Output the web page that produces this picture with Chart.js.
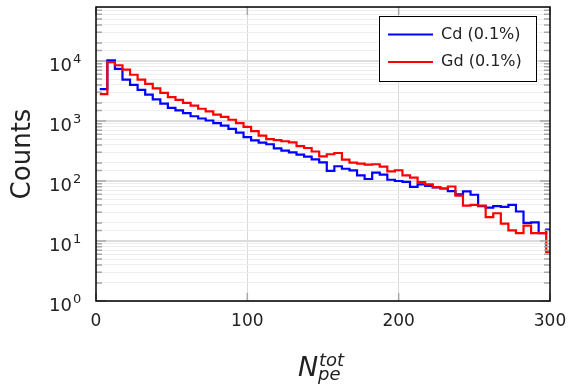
<!DOCTYPE html>
<html>
<head>
<meta charset="utf-8">
<script src="https://cdn.jsdelivr.net/npm/chart.js@4.4.1/dist/chart.umd.min.js"></script>
<style>
html, body { margin: 0; padding: 0; background: #fff; }
#wrap { width: 569px; height: 386px; }
</style>
</head>
<body>
<div id="wrap"><canvas id="c" width="569" height="386"></canvas></div>
<script>
// bin centres of the histogram (bins are 5 wide)
var binCenters = [5, 10, 15, 20, 25, 30, 35, 40, 45, 50,
	55, 60, 65, 70, 75, 80, 85, 90, 95, 100,
	105, 110, 115, 120, 125, 130, 135, 140, 145, 150,
	155, 160, 165, 170, 175, 180, 185, 190, 195, 200,
	205, 210, 215, 220, 225, 230, 235, 240, 245, 250,
	255, 260, 265, 270, 275, 280, 285, 290, 295, 300];
var binWidth = 5;

var cdCounts = [3400, 10300, 7400, 4900, 4000, 3300, 2750, 2300, 1950, 1650,
	1500, 1350, 1200, 1100, 1020, 920, 840, 740, 640, 540,
	475, 435, 410, 350, 320, 300, 275, 255, 230, 205,
	147, 176, 160, 150, 124, 108, 138, 128, 105, 100,
	97, 80, 88, 83, 78, 75, 68, 60, 67, 59,
	38, 36, 38, 37, 40, 31, 20, 20.5, 13.5, 15.5];

var gdCounts = [2800, 9600, 8500, 7200, 5900, 4900, 4150, 3500, 2950, 2500,
	2250, 2000, 1800, 1600, 1450, 1280, 1170, 1050, 920, 800,
	680, 570, 500, 480, 460, 440, 380, 355, 310, 258,
	279, 293, 227, 203, 195, 188, 190, 173, 145, 151,
	124, 114, 96, 88, 79, 75, 81, 57, 39, 40,
	39, 25, 29, 19.5, 15, 13.5, 18, 13.5, 13.5, 6.5];

var seriesLabels = ["Cd (0.1%)", "Gd (0.1%)"];
var seriesColors = ["#0000ff", "#ff0000"];
var xTicks = [0, 100, 200, 300];
var yDecades = [0, 1, 2, 3, 4];

var FONT = "'DejaVu Sans', sans-serif";

// histogram -> step points at the left bin edges, plus the closing edge
function toSteps(counts){
	var pts = [];
	for (var i = 0; i < counts.length; i++)
		pts.push({x: binCenters[i] - binWidth / 2, y: counts[i]});
	var last = counts.length - 1;
	pts.push({x: binCenters[last] + binWidth / 2, y: counts[last]});
	return pts;
}

function isDecade(v){
	var lg = Math.log10(v);
	return Math.abs(lg - Math.round(lg)) < 1e-6;
}

var decor = {
	id: 'decor',
	afterDraw: function(chart){
		var ctx = chart.ctx;
		var a = chart.chartArea;
		var xs = chart.scales.x;
		var ys = chart.scales.y;
		ctx.save();

		// little ticks inside the frame, left and right
		ctx.strokeStyle = '#a8a8a8';
		ctx.lineWidth = 1.5;
		ys.ticks.forEach(function(t){
			if (t.value < 1 || t.value >= ys.max) return;
			var y = ys.getPixelForValue(t.value);
			var len = isDecade(t.value) ? 10 : 6;
			ctx.beginPath();
			ctx.moveTo(a.left, y); ctx.lineTo(a.left + len, y);
			ctx.moveTo(a.right, y); ctx.lineTo(a.right - len, y);
			ctx.stroke();
		});
		xTicks.forEach(function(v){
			var x = xs.getPixelForValue(v);
			ctx.beginPath();
			ctx.moveTo(x, a.bottom); ctx.lineTo(x, a.bottom - 8);
			ctx.moveTo(x, a.top); ctx.lineTo(x, a.top + 8);
			ctx.stroke();
		});

		// frame
		ctx.strokeStyle = '#000';
		ctx.lineWidth = 1.5;
		ctx.strokeRect(a.left, a.top, a.right - a.left, a.bottom - a.top);

		// y labels 10^n
		ctx.fillStyle = '#222';
		yDecades.forEach(function(d){
			var y = ys.getPixelForValue(Math.pow(10, d));
			ctx.font = "18px " + FONT;
			ctx.textAlign = 'right';
			ctx.textBaseline = 'alphabetic';
			ctx.fillText("10", 72, y + 10);
			ctx.font = "13px " + FONT;
			ctx.textAlign = 'left';
			ctx.fillText(String(d), 73, y + 2);
		});

		// x title N_pe^tot
		ctx.fillStyle = '#222';
		ctx.textAlign = 'left';
		ctx.textBaseline = 'alphabetic';
		ctx.font = "italic 27px " + FONT;
		ctx.fillText("N", 298, 376);
		ctx.font = "italic 18px " + FONT;
		ctx.fillText("tot", 319, 366);
		ctx.fillText("pe", 318, 380);

		// legend box
		var bx = 379, by = 16, bw = 157, bh = 65;
		ctx.fillStyle = '#fff';
		ctx.fillRect(bx, by, bw, bh);
		ctx.strokeStyle = '#000';
		ctx.lineWidth = 1;
		ctx.strokeRect(bx + 0.5, by + 0.5, bw, bh);
		chart.data.datasets.forEach(function(ds, i){
			var ly = 34.5 + i * 27.5;
			ctx.strokeStyle = ds.borderColor;
			ctx.lineWidth = 2;
			ctx.beginPath();
			ctx.moveTo(388, ly); ctx.lineTo(433, ly);
			ctx.stroke();
			ctx.fillStyle = '#222';
			ctx.font = "16px " + FONT;
			ctx.textAlign = 'left';
			ctx.textBaseline = 'middle';
			ctx.fillText(ds.label, 441, ly);
		});
		ctx.restore();
	}
};

var chart = new Chart(document.getElementById("c").getContext('2d'), {
	type: 'line',
	data: {
		datasets: [{
			label: seriesLabels[0],
			data: toSteps(cdCounts),
			borderColor: seriesColors[0],
			borderWidth: 2.2,
			stepped: true,   // horizontal first, then vertical
			pointRadius: 0,
			fill: false,
			order: 1
		}, {
			label: seriesLabels[1],
			data: toSteps(gdCounts),
			borderColor: seriesColors[1],
			borderWidth: 2.2,
			stepped: true,
			pointRadius: 0,
			fill: false,
			order: 0
		}]
	},
	options: {
		responsive: false,
		animation: false,
		devicePixelRatio: 1,
		layout: { padding: { left: 0, right: 19, top: 7, bottom: 0 } },
		plugins: {
			legend: { display: false },
			tooltip: { enabled: false }
		},
		scales: {
			x: {
				type: 'linear',
				min: 0,
				max: 300,
				afterBuildTicks: function(s){ s.ticks = xTicks.map(function(v){ return {value: v}; }); },
				afterFit: function(s){ s.height = 85; s.paddingLeft = 0; s.paddingRight = 0; },
				ticks: { font: { family: FONT, size: 17 }, color: '#222', padding: 10, maxRotation: 0 },
				grid: {
					drawTicks: false,
					color: function(c){ return (c.tick && (c.tick.value == 100 || c.tick.value == 200)) ? '#d9d9d9' : 'rgba(0,0,0,0)'; },
					lineWidth: 1
				},
				border: { display: false }
			},
			y: {
				type: 'logarithmic',
				min: 1,
				max: Math.pow(10, 4.9),
				afterFit: function(s){ s.width = 96; },
				ticks: { display: false },
				title: {
					display: true,
					text: 'Counts',
					font: { family: FONT, size: 26 },
					color: '#222',
					padding: { top: 8, bottom: 0 }
				},
				grid: {
					drawTicks: false,
					color: function(c){ return (c.tick && isDecade(c.tick.value)) ? '#dcdcdc' : '#eeeeee'; },
					lineWidth: function(c){ return (c.tick && isDecade(c.tick.value)) ? 2 : 1; }
				},
				border: { display: false }
			}
		}
	},
	plugins: [decor]
});
</script>
</body>
</html>
